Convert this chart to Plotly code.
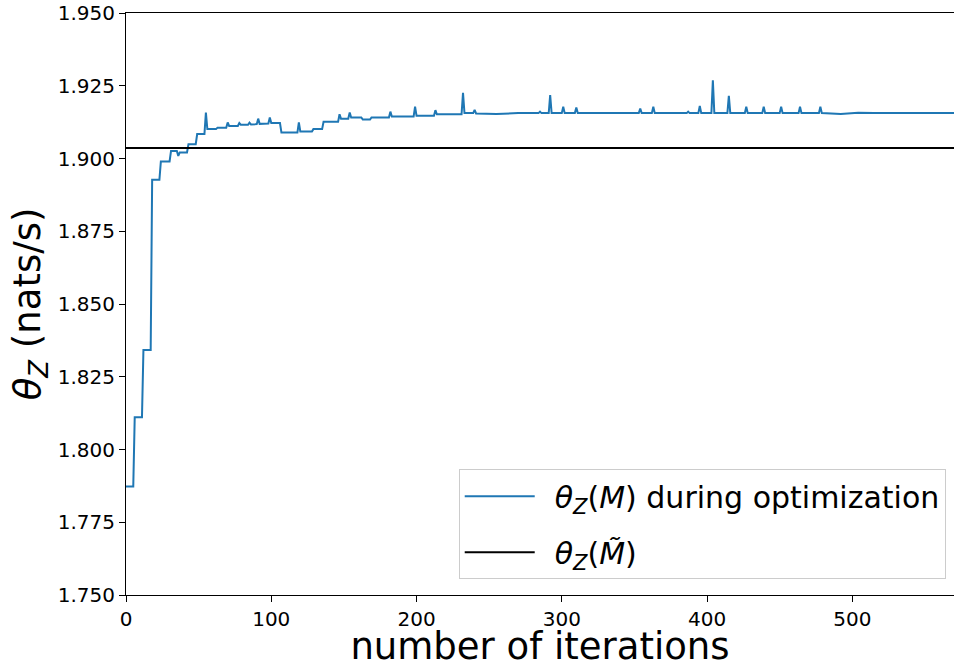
import plotly.graph_objects as go

# Breakpoints of theta_Z(M) (iteration, nats/s)
iterations = [0, 5, 6, 11, 12, 17, 18, 23, 24, 30, 31, 35, 36, 37, 42, 43, 48, 49, 54,
              55, 56, 62, 63, 69, 70, 71, 77, 78, 79, 84, 85, 86, 90, 91, 92, 98, 99,
              100, 106, 107, 118, 119, 120, 128, 129, 135, 136, 146, 147, 148, 153,
              154, 155, 162, 163, 168, 169, 181, 182, 183, 198, 199, 200, 212, 213,
              214, 231, 232, 233, 239, 240, 241, 255, 270, 284, 285, 286, 291, 292,
              293, 300, 301, 302, 309, 310, 311, 353, 354, 355, 362, 363, 364, 386,
              387, 388, 394, 395, 396, 403, 404, 405, 414, 415, 416, 426, 427, 428,
              438, 439, 440, 450, 451, 452, 463, 464, 465, 477, 478, 479, 492, 504,
              515, 570]
theta_opt = [1.7873, 1.7873, 1.8111, 1.8111, 1.8342, 1.8342, 1.8927, 1.8927, 1.8990,
             1.8990, 1.9026, 1.9026, 1.9009, 1.9021, 1.9021, 1.9049, 1.9049, 1.9084,
             1.9084, 1.9158, 1.9101, 1.9101, 1.9106, 1.9106, 1.9124, 1.9112, 1.9112,
             1.9122, 1.9116, 1.9116, 1.9123, 1.9117, 1.9118, 1.9137, 1.9119, 1.9120,
             1.9141, 1.9122, 1.9122, 1.9089, 1.9089, 1.9124, 1.9093, 1.9093, 1.9101,
             1.9101, 1.9126, 1.9126, 1.9152, 1.9137, 1.9137, 1.9158, 1.9141, 1.9141,
             1.9134, 1.9134, 1.9141, 1.9141, 1.9161, 1.9144, 1.9144, 1.9178, 1.9147,
             1.9147, 1.9166, 1.9152, 1.9152, 1.9226, 1.9156, 1.9156, 1.9167, 1.9155,
             1.9153, 1.9156, 1.9156, 1.9161, 1.9156, 1.9156, 1.9218, 1.9156, 1.9156,
             1.9178, 1.9156, 1.9156, 1.9175, 1.9156, 1.9156, 1.9172, 1.9156, 1.9156,
             1.9178, 1.9156, 1.9156, 1.9161, 1.9156, 1.9156, 1.9181, 1.9156, 1.9156,
             1.9269, 1.9156, 1.9156, 1.9215, 1.9156, 1.9156, 1.9178, 1.9156, 1.9156,
             1.9178, 1.9156, 1.9156, 1.9178, 1.9156, 1.9156, 1.9178, 1.9156, 1.9156,
             1.9178, 1.9156, 1.9153, 1.9157, 1.9156, 1.9156]

ref_x = [0, 570]
ref_theta = [1.9036, 1.9036]

x_ticks = [0, 100, 200, 300, 400, 500]
y_ticks = [1.750, 1.775, 1.800, 1.825, 1.850, 1.875, 1.900, 1.925, 1.950]

FONT = "DejaVu Sans"
GAP = "\u2002"  # spacing between legend line sample and its text

fig = go.Figure()
fig.add_trace(go.Scatter(
    x=iterations, y=theta_opt, mode="lines",
    line=dict(color="#1f77b4", width=2),
    name=GAP + "<i>θ</i><sub><i>Z</i></sub>(<i>M</i>) during optimization",
    legendgroup="a",
))
fig.add_trace(go.Scatter(
    x=ref_x, y=ref_theta, mode="lines",
    line=dict(color="#000000", width=2),
    name=GAP + "<i>θ</i><sub><i>Z</i></sub>(<i>M\u0303</i>)",
    legendgroup="b",
))

axis_common = dict(
    showline=True, linecolor="black", linewidth=1, mirror=True,
    ticks="outside", ticklen=6, tickwidth=1, tickcolor="black",
    showgrid=False, zeroline=False, automargin=False,
    tickfont=dict(family=FONT, size=20, color="black"),
)

fig.update_xaxes(
    range=[0, 570], tickvals=x_ticks,
    title=dict(text="number of iterations", font=dict(family=FONT, size=37, color="black"), standoff=7),
    **axis_common,
)
fig.update_yaxes(
    range=[1.75, 1.95], tickvals=y_ticks, tickformat=".3f",
    title=dict(text="<i>θ</i><sub><i>Z</i></sub> (nats/s)", font=dict(family=FONT, size=37, color="black"), standoff=5),
    **axis_common,
)

fig.update_layout(
    width=954, height=668,
    margin=dict(l=126, r=0, t=13, b=73, autoexpand=False),
    plot_bgcolor="white", paper_bgcolor="white",
    font=dict(family=FONT, color="black"),
    showlegend=True,
    legend=dict(
        x=0.99, y=0.027, xanchor="right", yanchor="bottom",
        bgcolor="white", bordercolor="#cccccc", borderwidth=1,
        font=dict(family=FONT, size=30, color="black"),
        tracegroupgap=14, itemwidth=70,
    ),
)

fig.write_html("out.html", config={"displayModeBar": False},
               post_script="document.body.style.margin='0px';")
